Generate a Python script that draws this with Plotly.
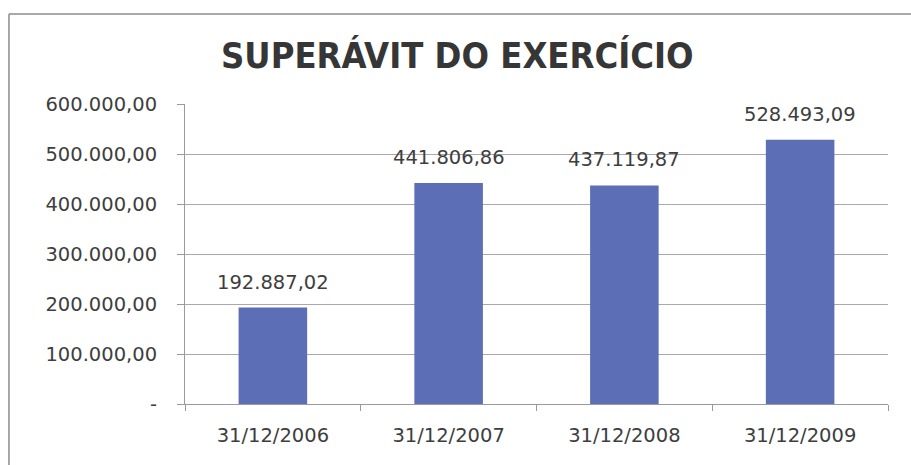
import plotly.graph_objects as go

categories = ["31/12/2006", "31/12/2007", "31/12/2008", "31/12/2009"]
values = [192887.02, 441806.86, 437119.87, 528493.09]
y_ticks = [0, 100000, 200000, 300000, 400000, 500000, 600000]
title_text = "SUPERÁVIT DO EXERCÍCIO"


def br(v):
    s = f"{v:,.2f}"
    return s.replace(",", "X").replace(".", ",").replace("X", ".")


y_ticktext = ["-" if v == 0 else br(v) for v in y_ticks]

FONT = "DejaVu Sans"
TXT = "#3e3e3e"
FS = 19.5

fig = go.Figure()
fig.add_trace(go.Bar(
    x=categories, y=values,
    marker=dict(color="#5B6EB6", line=dict(width=0)),
    width=0.39,
    hoverinfo="skip",
))

for c, v in zip(categories, values):
    fig.add_annotation(x=c, y=v, text=br(v), showarrow=False,
                       yanchor="bottom", yshift=12,
                       font=dict(family=FONT, size=FS, color=TXT))

# scanned frame: top and left edges
fig.add_shape(type="line", xref="paper", yref="paper",
              x0=-0.2504, x1=1.04, y0=1.30, y1=1.30,
              line=dict(color="#8c8c8c", width=1.5))
fig.add_shape(type="line", xref="paper", yref="paper",
              x0=-0.2504, x1=-0.2504, y0=1.30, y1=-0.21,
              line=dict(color="#8c8c8c", width=1.5))

fig.update_layout(
    width=911, height=465,
    margin=dict(l=185, r=23, t=104, b=61),
    paper_bgcolor="white", plot_bgcolor="white",
    showlegend=False,
    title=dict(text=title_text, x=0.502, xanchor="center", y=0.88, yanchor="middle",
               font=dict(family="DejaVu Sans Condensed", size=36, color="#363636", weight="bold")),
    xaxis=dict(
        showline=True, linecolor="#9a98a6", linewidth=1,
        ticks="outside", tickson="boundaries", ticklen=6, tickcolor="#9a98a6",
        ticklabelstandoff=14,
        tickfont=dict(family=FONT, size=FS, color=TXT),
        showgrid=False, range=[-0.5, 3.5],
    ),
    yaxis=dict(
        range=[0, 600000],
        tickvals=y_ticks, ticktext=y_ticktext,
        showline=True, linecolor="#9a98a6", linewidth=1,
        ticks="outside", ticklen=7, tickcolor="#9a98a6",
        ticklabelstandoff=16,
        showgrid=True, gridcolor="#aaa6b4", gridwidth=1,
        zeroline=False,
        tickfont=dict(family=FONT, size=FS, color=TXT),
    ),
    bargap=0.61,
)

fig.write_html("out.html", config={"displayModeBar": False},
               post_script="document.body.style.margin='0';")
